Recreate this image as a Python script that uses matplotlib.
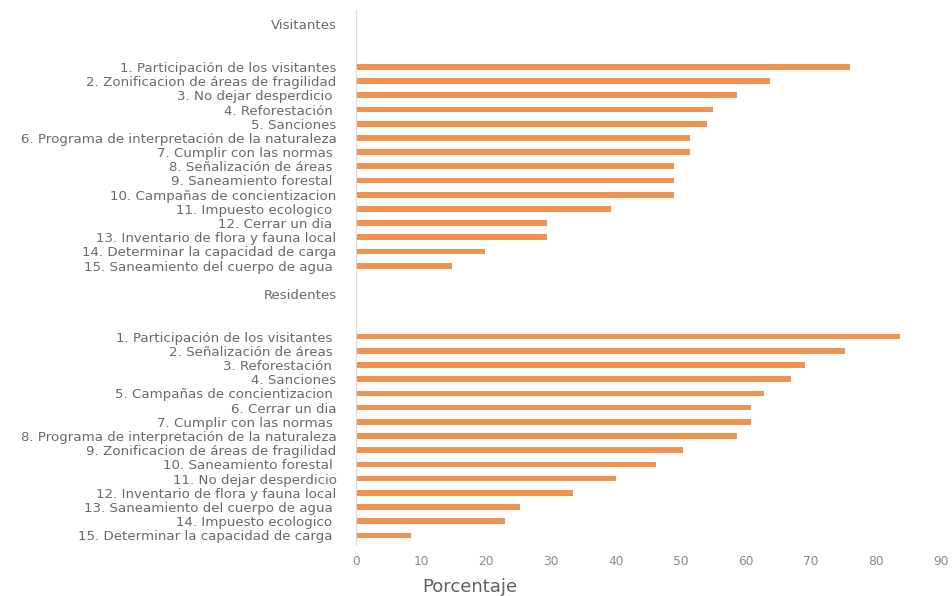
import matplotlib.pyplot as plt
import numpy as np

# Visitantes
vis_etiquetas = [
    "1. Participación de los visitantes",
    "2. Zonificacion de áreas de fragilidad",
    "3. No dejar desperdicio ",
    "4. Reforestación ",
    "5. Sanciones",
    "6. Programa de interpretación de la naturaleza",
    "7. Cumplir con las normas ",
    "8. Señalización de áreas ",
    "9. Saneamiento forestal ",
    "10. Campañas de concientizacion",
    "11. Impuesto ecologico ",
    "12. Cerrar un dia ",
    "13. Inventario de flora y fauna local",
    "14. Determinar la capacidad de carga",
    "15. Saneamiento del cuerpo de agua ",
]
vis_valores = [76.0, 63.8, 58.7, 55.0, 54.0, 51.4, 51.4, 49.0, 49.0, 49.0,
               39.2, 29.4, 29.4, 19.8, 14.8]

# Residentes
res_etiquetas = [
    "1. Participación de los visitantes ",
    "2. Señalización de áreas ",
    "3. Reforestación ",
    "4. Sanciones",
    "5. Campañas de concientizacion ",
    "6. Cerrar un dia",
    "7. Cumplir con las normas ",
    "8. Programa de interpretación de la naturaleza",
    "9. Zonificacion de áreas de fragilidad",
    "10. Saneamiento forestal ",
    "11. No dejar desperdicio",
    "12. Inventario de flora y fauna local",
    "13. Saneamiento del cuerpo de agua ",
    "14. Impuesto ecologico ",
    "15. Determinar la capacidad de carga ",
]
res_valores = [83.8, 75.3, 69.1, 67.0, 62.8, 60.8, 60.8, 58.6, 50.3, 46.2,
               40.0, 33.4, 25.2, 23.0, 8.4]

# filas: encabezado, 2 vacias, 15 barras, 1 vacia, encabezado, 2 vacias, 15 barras
etiquetas = (["Visitantes", "", ""] + vis_etiquetas + [""] +
             ["Residentes", "", ""] + res_etiquetas)
valores = ([0, 0, 0] + vis_valores + [0] + [0, 0, 0] + res_valores)
pos = np.arange(len(etiquetas))

plt.rcParams['font.family'] = ['DejaVu Sans']

fig = plt.figure(figsize=(9.52, 5.96), dpi=100)
ax = fig.add_axes([0.374, 0.085, 0.614, 0.898])

ax.barh(pos, valores, height=0.4, color='#EE9450')

ax.set_yticks(pos)
ax.set_yticklabels(etiquetas, fontsize=9.6, color='#6a6a6a')
ax.set_ylim(36.7, -1.0)
ax.set_xlim(0, 90)
ax.set_xticks(np.arange(0, 91, 10))
ax.tick_params(axis='x', labelsize=8.8, labelcolor='#8a8a8a', length=0, pad=7)
ax.tick_params(axis='y', length=0, pad=14)

for s in ['top', 'right', 'bottom']:
    ax.spines[s].set_visible(False)
ax.spines['left'].set_color('#d9d9d9')
ax.spines['left'].set_linewidth(0.8)

ax.set_xlabel("Porcentaje", fontsize=13, color='#606060', va='center')
ax.xaxis.set_label_coords((470 - 356) / (941 - 356), -0.078)

plt.savefig("out.png", dpi=100)
